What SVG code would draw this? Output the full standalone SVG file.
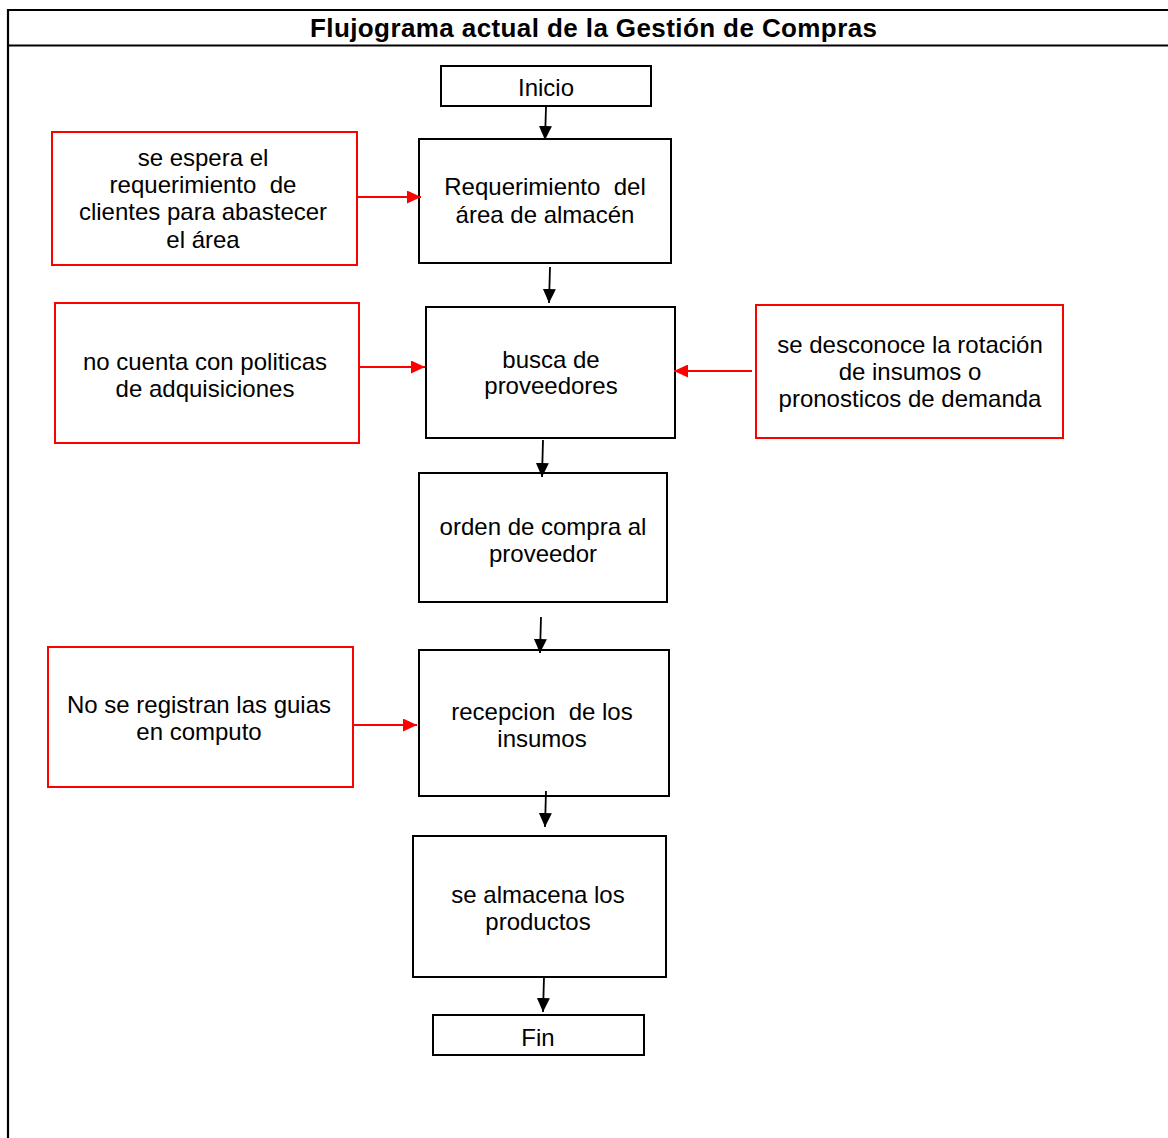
<svg xmlns="http://www.w3.org/2000/svg" width="1168" height="1138" viewBox="0 0 1168 1138">
<defs>
<marker id="ab" markerWidth="14" markerHeight="13" refX="14" refY="6.5" orient="auto" markerUnits="userSpaceOnUse" viewBox="0 0 14 13"><path d="M0,0 L14,6.5 L0,13 z" fill="#000"/></marker>
<marker id="ar" markerWidth="14" markerHeight="13" refX="14" refY="6.5" orient="auto" markerUnits="userSpaceOnUse" viewBox="0 0 14 13"><path d="M0,0 L14,6.5 L0,13 z" fill="#ff0000"/></marker>
</defs>
<style>
.frame{fill:none;stroke:#000;stroke-width:2.2}
.box{fill:#fff;stroke:#000;stroke-width:2}
.rbox{fill:#fff;stroke:#ff0000;stroke-width:2}
.t{font-family:"Liberation Sans",Arial,sans-serif;font-size:24px;fill:#000;text-anchor:middle;white-space:pre}
.title{font-family:"Liberation Sans",Arial,sans-serif;font-size:26px;font-weight:bold;fill:#000;text-anchor:middle}
.c{stroke:#000;stroke-width:1.8;fill:none}
.rc{stroke:#ff0000;stroke-width:1.8;fill:none}
</style>
<rect width="1168" height="1138" fill="#fff"/>
<g id="frame">
<line class="frame" x1="8" y1="10" x2="1168" y2="10"/>
<line class="frame" x1="8" y1="45.5" x2="1168" y2="45.5"/>
<line class="frame" x1="8" y1="9" x2="8" y2="1138"/>
<text class="title" x="593.5" y="37" textLength="567" lengthAdjust="spacing">Flujograma actual de la Gestión de Compras</text>
</g>
<g id="inicio">
<rect class="box" x="441" y="66" width="210" height="40"/>
<text class="t" x="546" y="96">Inicio</text>
</g>
<g id="requerimiento">
<rect class="box" x="419" y="139" width="252" height="124"/>
<text class="t" x="545" y="195" xml:space="preserve">Requerimiento  del</text>
<text class="t" x="545" y="223">área de almacén</text>
</g>
<g id="nota1">
<rect class="rbox" x="52" y="132" width="305" height="133"/>
<text class="t" x="203" y="166">se espera el</text>
<text class="t" x="203" y="193" xml:space="preserve">requerimiento  de</text>
<text class="t" x="203" y="220">clientes para abastecer</text>
<text class="t" x="203" y="248">el área</text>
</g>
<g id="busca">
<rect class="box" x="426" y="307" width="249" height="131"/>
<text class="t" x="551" y="368">busca de</text>
<text class="t" x="551" y="394">proveedores</text>
</g>
<g id="nota2">
<rect class="rbox" x="55" y="303" width="304" height="140"/>
<text class="t" x="205" y="370">no cuenta con politicas</text>
<text class="t" x="205" y="397">de adquisiciones</text>
</g>
<g id="nota3">
<rect class="rbox" x="756" y="305" width="307" height="133"/>
<text class="t" x="910" y="353">se desconoce la rotación</text>
<text class="t" x="910" y="380">de insumos o</text>
<text class="t" x="910" y="407">pronosticos de demanda</text>
</g>
<g id="orden">
<rect class="box" x="419" y="473" width="248" height="129"/>
<text class="t" x="543" y="535">orden de compra al</text>
<text class="t" x="543" y="562">proveedor</text>
</g>
<g id="recepcion">
<rect class="box" x="419" y="650" width="250" height="146"/>
<text class="t" x="542" y="720" xml:space="preserve">recepcion  de los</text>
<text class="t" x="542" y="747">insumos</text>
</g>
<g id="nota4">
<rect class="rbox" x="48" y="647" width="305" height="140"/>
<text class="t" x="199" y="713">No se registran las guias</text>
<text class="t" x="199" y="740">en computo</text>
</g>
<g id="almacena">
<rect class="box" x="413" y="836" width="253" height="141"/>
<text class="t" x="538" y="903">se almacena los</text>
<text class="t" x="538" y="930">productos</text>
</g>
<g id="fin">
<rect class="box" x="433" y="1015" width="211" height="40"/>
<text class="t" x="538" y="1046">Fin</text>
</g>
<g id="connectors">
<line class="c" x1="546" y1="107" x2="545" y2="140" marker-end="url(#ab)"/>
<line class="c" x1="550" y1="267" x2="549" y2="303" marker-end="url(#ab)"/>
<line class="c" x1="543" y1="440" x2="542" y2="477" marker-end="url(#ab)"/>
<line class="c" x1="541" y1="617" x2="540" y2="653" marker-end="url(#ab)"/>
<line class="c" x1="546" y1="791" x2="545" y2="827" marker-end="url(#ab)"/>
<line class="c" x1="544" y1="977" x2="543" y2="1012" marker-end="url(#ab)"/>
<line class="rc" x1="357" y1="197" x2="421" y2="197" marker-end="url(#ar)"/>
<line class="rc" x1="359" y1="367" x2="425" y2="367" marker-end="url(#ar)"/>
<line class="rc" x1="752" y1="371" x2="674" y2="371" marker-end="url(#ar)"/>
<line class="rc" x1="353" y1="725" x2="417" y2="725" marker-end="url(#ar)"/>
</g>
</svg>
